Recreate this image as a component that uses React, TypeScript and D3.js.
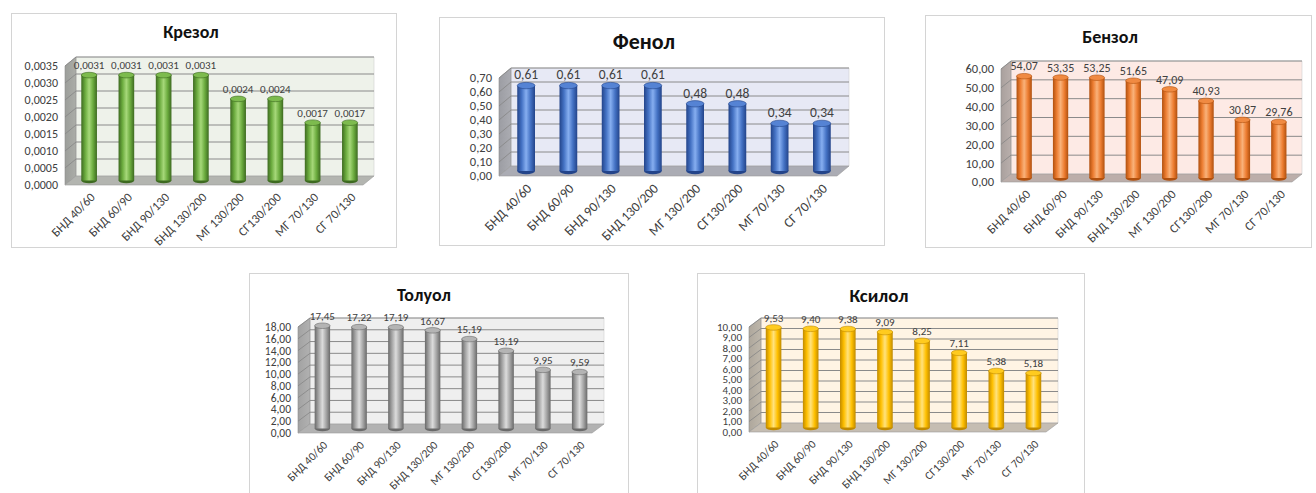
import React from 'react';
import * as d3 from 'd3';

const categories = ['БНД 40/60', 'БНД 60/90', 'БНД 90/130', 'БНД 130/200', 'МГ 130/200', 'СГ130/200', 'МГ 70/130', 'СГ 70/130'];

const kresolValues = [0.0031, 0.0031, 0.0031, 0.0031, 0.0024, 0.0024, 0.0017, 0.0017];
const phenolValues = [0.61, 0.61, 0.61, 0.61, 0.48, 0.48, 0.34, 0.34];
const benzeneValues = [54.07, 53.35, 53.25, 51.65, 47.09, 40.93, 30.87, 29.76];
const tolueneValues = [17.45, 17.22, 17.19, 16.67, 15.19, 13.19, 9.95, 9.59];
const xyleneValues = [9.53, 9.4, 9.38, 9.09, 8.25, 7.11, 5.38, 5.18];

const kresolTicks = [0, 0.0005, 0.001, 0.0015, 0.002, 0.0025, 0.003, 0.0035];
const phenolTicks = [0, 0.1, 0.2, 0.3, 0.4, 0.5, 0.6, 0.7];
const benzeneTicks = [0, 10, 20, 30, 40, 50, 60];
const tolueneTicks = [0, 2, 4, 6, 8, 10, 12, 14, 16, 18];
const xyleneTicks = [0, 1, 2, 3, 4, 5, 6, 7, 8, 9, 10];

const FONT = "Carlito, Calibri, 'Liberation Sans', Arial, sans-serif";

interface Pal { dark: string; mid: string; light: string; top: string; wall: string; floor: string; side: string; }

interface Panel {
  id: string; title: string; values: number[]; ticks: number[]; decimals: number;
  box: [number, number, number, number];
  tx: number; ty: number; tsize: number;
  x0: number; x1: number; base: number; top: number; dx: number; dy: number;
  fs: number; vfs: number; cfs: number; pal: Pal;
}

const panels: Panel[] = [
  {
    id: 'kr', title: 'Крезол', values: kresolValues, ticks: kresolTicks, decimals: 4,
    box: [11, 13, 396, 247], tx: 191, ty: 38, tsize: 18,
    x0: 65, x1: 363, base: 185, top: 66, dx: 11, dy: -9, fs: 12, vfs: 11, cfs: 12.5,
    pal: { dark: '#3d6a20', mid: '#6bab3e', light: '#a6d879', top: '#7dbb4e', wall: '#eef2ea', floor: '#b3b5b0', side: '#9c9e9a' },
  },
  {
    id: 'ph', title: 'Фенол', values: phenolValues, ticks: phenolTicks, decimals: 2,
    box: [439, 17, 884, 245], tx: 644, ty: 49, tsize: 22,
    x0: 499, x1: 837, base: 176, top: 78, dx: 12, dy: -10, fs: 12.5, vfs: 13.5, cfs: 13.5,
    pal: { dark: '#23448a', mid: '#4472c4', light: '#86aef0', top: '#5583d4', wall: '#e7e9f5', floor: '#abacb4', side: '#9c9da3' },
  },
  {
    id: 'bz', title: 'Бензол', values: benzeneValues, ticks: benzeneTicks, decimals: 2,
    box: [925, 15, 1311, 247], tx: 1110, ty: 43, tsize: 18,
    x0: 1001, x1: 1292, base: 182, top: 69, dx: 10, dy: -8, fs: 12.5, vfs: 12, cfs: 12.5,
    pal: { dark: '#b0500e', mid: '#ed7d31', light: '#f9b27a', top: '#f08a42', wall: '#fdeae5', floor: '#bcaeaa', side: '#a9a09d' },
  },
  {
    id: 'tl', title: 'Толуол', values: tolueneValues, ticks: tolueneTicks, decimals: 2,
    box: [249, 273, 628, 500], tx: 424, ty: 301, tsize: 18,
    x0: 298, x1: 592, base: 433, top: 327, dx: 12, dy: -9, fs: 11.5, vfs: 11, cfs: 11.5,
    pal: { dark: '#6a6a6a', mid: '#a5a5a5', light: '#dcdcdc', top: '#b4b4b4', wall: '#efefef', floor: '#b2b2b2', side: '#a2a2a2' },
  },
  {
    id: 'xy', title: 'Ксилол', values: xyleneValues, ticks: xyleneTicks, decimals: 2,
    box: [697, 273, 1084, 500], tx: 879, ty: 302, tsize: 19,
    x0: 749, x1: 1046, base: 432, top: 327, dx: 12, dy: -9, fs: 11, vfs: 11, cfs: 11.5,
    pal: { dark: '#c08a00', mid: '#ffc000', light: '#ffe27e', top: '#ffcb1f', wall: '#fff4e4', floor: '#c5bdb2', side: '#aea79c' },
  },
];

const fmt = (v: number, d: number) => v.toFixed(d).replace('.', ',');

function ChartPanel({ p }: { p: Panel }) {
  const [bx0, by0, bx1, by1] = p.box;
  const maxTick = p.ticks[p.ticks.length - 1];
  const y = d3.scaleLinear().domain([0, maxTick]).range([p.base, p.top]);
  const x = d3.scaleBand<string>().domain(categories).range([p.x0, p.x1]).padding(0);
  const step = x.step();
  const bw = step * 0.42;
  const ry = Math.max(2.5, bw * 0.18);
  const { dx, dy, pal } = p;
  const yTop = y(maxTick);
  const gid = `grad-${p.id}`;
  const sid = `side-${p.id}`;

  const backWall = `M${p.x0 + dx},${yTop + dy} L${p.x1 + dx},${yTop + dy} L${p.x1 + dx},${p.base + dy} L${p.x0 + dx},${p.base + dy} Z`;
  const leftWall = `M${p.x0},${yTop} L${p.x0 + dx},${yTop + dy} L${p.x0 + dx},${p.base + dy} L${p.x0},${p.base} Z`;
  const floor = `M${p.x0},${p.base} L${p.x0 + dx},${p.base + dy} L${p.x1 + dx},${p.base + dy} L${p.x1},${p.base} Z`;

  return (
    <g>
      <defs>
        <linearGradient id={gid} x1="0" x2="1" y1="0" y2="0">
          <stop offset="0" stopColor={pal.dark} />
          <stop offset="0.25" stopColor={pal.mid} />
          <stop offset="0.5" stopColor={pal.light} />
          <stop offset="0.75" stopColor={pal.mid} />
          <stop offset="1" stopColor={pal.dark} />
        </linearGradient>
        <linearGradient id={sid} x1="0" x2="1" y1="0" y2="0">
          <stop offset="0" stopColor={pal.side} />
          <stop offset="1" stopColor={d3.color(pal.side)!.brighter(0.25).formatHex()} />
        </linearGradient>
      </defs>
      <rect x={bx0 + 0.5} y={by0 + 0.5} width={bx1 - bx0} height={by1 - by0} fill="#ffffff" stroke="#d4d4d4" strokeWidth={1} />
      <text x={p.tx} y={p.ty} textAnchor="middle" fontFamily={FONT} fontWeight="bold" fontSize={p.tsize} fill="#111">{p.title}</text>

      <path d={backWall} fill={pal.wall} stroke="#d0d0d0" strokeWidth={0.6} />
      <path d={leftWall} fill={`url(#${sid})`} stroke="#8f8f8f" strokeWidth={0.6} />
      <path d={floor} fill={pal.floor} stroke="#9a9a9a" strokeWidth={0.6} />

      {p.ticks.map((t, i) => (
        <g key={`g${i}`}>
          {t > 0 && (
            <line x1={p.x0 + dx} x2={p.x1 + dx} y1={y(t) + dy} y2={y(t) + dy} stroke="#8a8a8a" strokeWidth={1} />
          )}
          {t > 0 && (
            <line x1={p.x0} x2={p.x0 + dx} y1={y(t)} y2={y(t) + dy} stroke="#858585" strokeWidth={0.8} />
          )}
          <text x={p.x0 - 7} y={y(t)} dy="0.35em" textAnchor="end" fontFamily={FONT} fontSize={p.fs} fill="#404040">
            {fmt(t, p.decimals)}
          </text>
        </g>
      ))}

      {p.values.map((v, i) => {
        const cx = (x(categories[i]) as number) + step / 2 + dx / 2;
        const yb = p.base + dy / 2;
        const yt = y(v) + dy / 2;
        return (
          <g key={`b${i}`}>
            <ellipse cx={cx} cy={yb} rx={bw / 2} ry={ry} fill={pal.dark} />
            <rect x={cx - bw / 2} y={yt} width={bw} height={yb - yt} fill={`url(#${gid})`} />
            <ellipse cx={cx} cy={yt} rx={bw / 2} ry={ry} fill={pal.top} stroke={pal.dark} strokeWidth={0.6} />
            <text x={cx} y={yt - ry - 3} textAnchor="middle" fontFamily={FONT} fontSize={p.vfs} fill="#404040">
              {fmt(v, p.decimals)}
            </text>
          </g>
        );
      })}

      {categories.map((c, i) => {
        const cx = (x(c) as number) + step / 2 + 9;
        const ly = p.base + 10;
        return (
          <text key={`c${i}`} x={cx} y={ly} textAnchor="end" fontFamily={FONT} fontSize={p.cfs} fill="#404040"
            transform={`rotate(-45 ${cx} ${ly})`} dy="0.35em">
            {c}
          </text>
        );
      })}
    </g>
  );
}

export default function App() {
  return (
    <svg width={1316} height={493} style={{ position: 'absolute', left: 0, top: 0, background: '#ffffff' }}>
      {panels.map((p) => (
        <ChartPanel key={p.id} p={p} />
      ))}
    </svg>
  );
}
